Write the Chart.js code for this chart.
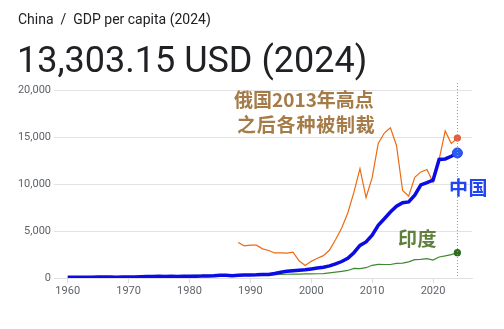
<!DOCTYPE html>
<html>
<head>
<meta charset="utf-8">
<title>China GDP per capita</title>
<script src="https://cdn.jsdelivr.net/npm/chart.js"></script>
<style>
  body { margin: 0; background: #fff; width: 504px; height: 329px; overflow: hidden; position: relative; font-family: Roboto, "Noto Sans", sans-serif; }
  #chart { position: absolute; left: 0; top: 0; }
  .txt { position: absolute; white-space: nowrap; line-height: 1; }
  .title { left: 18px; top: 12px; font-size: 14px; color: #202124; }
  .big { left: 17px; top: 42px; font-size: 36px; color: #202124; }
  .cjk { font-family: "Noto Sans CJK SC", sans-serif; font-weight: bold; }
  .note { left: 234px; font-size: 19px; color: #a57b48; }
  .cn { left: 449px; top: 177px; font-size: 19px; letter-spacing: 0.5px; color: #2245f2; }
  .in { left: 398px; top: 228px; font-size: 19px; letter-spacing: 0.5px; color: #5f7f3c; }
</style>
</head>
<body>
<canvas id="chart" width="504" height="329"></canvas>
<div class="txt title">China &nbsp;/ &nbsp;GDP per capita (2024)</div>
<div class="txt big">13,303.15 USD (2024)</div>
<div class="txt cjk note" style="top:89px">俄国2013年高点</div>
<div class="txt cjk note" style="top:114px;left:237px;letter-spacing:0.8px">之后各种被制裁</div>
<div class="txt cjk cn">中国</div>
<div class="txt cjk in">印度</div>
<script>
// GDP per capita, current USD
const years = [];
for (let y = 1960; y <= 2024; y++) years.push(y);

const china = [89.5, 75.8, 70.9, 74.3, 85.5, 98.5, 104.3, 96.6, 91.5, 100.1,
  113.2, 118.7, 131.9, 157.1, 160.1, 178.3, 165.4, 185.4, 156.4, 183.9,
  194.8, 197.1, 203.3, 225.4, 250.7, 294.5, 281.9, 251.8, 283.5, 310.9,
  317.9, 333.1, 366.5, 377.4, 473.5, 609.7, 709.4, 781.7, 828.6, 873.3,
  959.4, 1053.1, 1148.5, 1288.6, 1508.7, 1753.4, 2099.2, 2693.9, 3468.3, 3832.2,
  4550.5, 5614.4, 6300.6, 7020.4, 7636.1, 8016.4, 8094.4, 8817.0, 9905.4, 10143.9,
  10408.7, 12617.5, 12662.6, 12951.2, 13303.15];

const india = [82.2, 85.4, 89.9, 101.1, 115.5, 119.3, 90.0, 96.0, 99.4, 107.6,
  112.4, 118.6, 123.0, 143.8, 163.5, 158.0, 161.1, 186.2, 205.7, 224.0,
  266.6, 270.5, 274.1, 291.2, 276.7, 296.4, 310.5, 340.4, 354.2, 346.1,
  367.6, 303.1, 316.9, 301.2, 346.2, 373.8, 399.6, 415.5, 413.3, 441.9,
  442.0, 449.9, 470.0, 543.9, 624.1, 710.5, 802.0, 1022.7, 993.5, 1096.6,
  1350.6, 1449.6, 1434.0, 1438.1, 1559.9, 1590.2, 1714.3, 1958.0, 1974.4, 2050.2,
  1913.2, 2238.1, 2347.4, 2480.8, 2696.7];

// no data for Russia before 1988
const russia = [null, null, null, null, null, null, null, null, null, null,
  null, null, null, null, null, null, null, null, null, null,
  null, null, null, null, null, null, null, null, 3777.2, 3428.9,
  3492.7, 3490.4, 3098.8, 2929.3, 2662.8, 2665.8, 2643.9, 2737.6, 1834.9, 1330.8,
  1771.6, 2100.4, 2377.5, 2975.1, 4102.4, 5323.5, 6920.2, 9101.3, 11635.3, 8562.8,
  10674.9, 14311.1, 15420.9, 15974.6, 14095.6, 9313.0, 8704.9, 10720.3, 11287.4, 11536.3,
  10194.5, 12593.0, 15646.4, 14300.0, 14889.0];

const xTicks = [1960, 1970, 1980, 1990, 2000, 2010, 2020];
const yTicks = [0, 5000, 10000, 15000, 20000];

function pts(vals) {
  return vals.map((v, i) => ({ x: years[i], y: v }));
}
function lastOnly(r) {
  return ctx => ctx.dataIndex === years.length - 1 ? r : 0;
}

const markerLine = {
  id: 'markerLine',
  afterDatasetsDraw(chart) {
    const c = chart.ctx;
    const x = Math.round(chart.scales.x.getPixelForValue(2024)) + 0.5;
    c.save();
    c.strokeStyle = '#9a9a9a';
    c.lineWidth = 1;
    c.setLineDash([1, 2]);
    c.beginPath();
    c.moveTo(x, 83);
    c.lineTo(x, chart.chartArea.bottom);
    c.stroke();
    c.restore();
  }
};

Chart.defaults.font.family = 'Roboto, sans-serif';

new Chart(document.getElementById('chart'), {
  type: 'line',
  data: {
    datasets: [
      {
        label: 'China',
        data: pts(china),
        borderColor: '#0b0be6',
        borderWidth: 3.5,
        pointRadius: lastOnly(5),
        pointBackgroundColor: '#2a5cf2',
        pointBorderColor: '#1f45e0',
        pointBorderWidth: 1,
        tension: 0
      },
      {
        label: 'Russia',
        data: pts(russia),
        borderColor: '#ee6a12',
        borderWidth: 1.2,
        pointRadius: lastOnly(3),
        pointBackgroundColor: '#e0603a',
        pointBorderColor: '#e0603a',
        spanGaps: false,
        tension: 0
      },
      {
        label: 'India',
        data: pts(india),
        borderColor: '#3d8b2e',
        borderWidth: 1.2,
        pointRadius: lastOnly(3),
        pointBackgroundColor: '#2e6a1f',
        pointBorderColor: '#2e6a1f',
        tension: 0
      }
    ]
  },
  options: {
    responsive: false,
    animation: false,
    events: [],
    layout: { padding: { top: 90, right: 32, bottom: 0, left: 0 } },
    plugins: { legend: { display: false }, tooltip: { enabled: false } },
    scales: {
      x: {
        type: 'linear',
        min: 1957.75,
        max: 2026.4,
        afterBuildTicks: s => { s.ticks = xTicks.map(v => ({ value: v })); },
        afterFit: s => { s.height = 51; },
        ticks: {
          callback: v => String(v),
          color: '#5f6368',
          font: { size: 11 },
          padding: 2,
          maxRotation: 0,
          autoSkip: false
        },
        grid: { drawOnChartArea: false, tickLength: 5, color: '#dcdcdc' },
        border: { color: '#e0e0e0' }
      },
      y: {
        min: 0,
        max: 20000,
        afterBuildTicks: s => { s.ticks = yTicks.map(v => ({ value: v })); },
        afterFit: s => { s.width = 54; },
        ticks: {
          callback: v => v.toLocaleString('en-US'),
          color: '#5f6368',
          font: { size: 11 },
          padding: 3
        },
        grid: { color: '#e3e3e3', drawTicks: false },
        border: { display: false }
      }
    }
  },
  plugins: [markerLine]
});
</script>
</body>
</html>
